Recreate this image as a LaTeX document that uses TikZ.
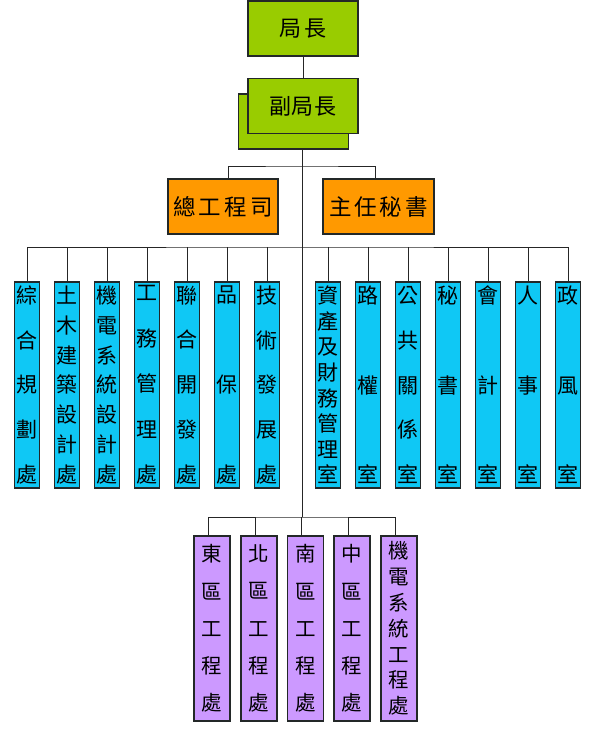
\documentclass[tikz,border=0pt]{standalone}
\usepackage{fontspec}
\setmainfont{Noto Sans CJK TC}
\definecolor{gbox}{RGB}{153,204,0}
\definecolor{obox}{RGB}{255,153,0}
\definecolor{bbox}{RGB}{15,200,245}
\definecolor{pbox}{RGB}{204,153,255}
\definecolor{edge}{RGB}{35,40,40}
\makeatletter
\newcommand\vst[2]{\parbox[c][#1][s]{1.2em}{\centering\def\vs@p{\def\vs@p{\par\vfill}}\@tfor\@ch:=#2\do{\vs@p\@ch}\par}}
\makeatother
\begin{document}
\begin{tikzpicture}[x=1pt,y=-1pt,
  box/.style={draw=edge,line width=1.1pt,inner sep=0pt,anchor=center},
  gnode/.style={box,fill=gbox,minimum width=110pt,minimum height=55pt,font=\fontsize{22}{22}\selectfont},
  onode/.style={box,fill=obox,minimum width=110pt,minimum height=55pt,font=\fontsize{22.5}{22}\selectfont},
  bnode/.style={box,fill=bbox,minimum width=25pt,minimum height=206pt,font=\fontsize{21}{21}\selectfont},
  pnode/.style={box,fill=pbox,minimum width=36pt,minimum height=185pt,font=\fontsize{20.5}{21}\selectfont},
  link/.style={draw=black!85,line width=0.9pt}]
\useasboundingbox[fill=white] (0,0) rectangle (595,732);

% top
\node[gnode] (chief) at (303,28.5) {局\hspace{3pt}長};
\node[gnode,text opacity=0] (deputyb) at (293.5,121.5) {};
\node[gnode] (deputy) at (303,106) {副\hspace{1pt}局\hspace{1pt}長};
\draw[link] (chief.south) -- (deputy.north);

% orange
\node[onode] (eng) at (223,206.5) {總\hspace{3pt}工\hspace{3pt}程\hspace{3pt}司};
\node[onode,minimum width=111pt] (sec) at (378.5,206.5) {主\hspace{3pt}任\hspace{3pt}秘\hspace{3pt}書};

\coordinate (t0) at (302,149);
\coordinate (hor) at (302,166);
\coordinate (hbl) at (302,247);
\coordinate (hpu) at (302,517);
\draw[link] (t0) -- (hpu);
\draw[link] ([xshift=5pt]eng.north) |- (hor) -| ([xshift=-3.5pt]sec.north);

% blue
\node[bnode] (b1) at (27,385) {\vst{197pt}{綜合規劃處}};
\node[bnode] (b2) at (67,385) {\vst{197pt}{土木建築設計處}};
\node[bnode] (b3) at (107,385) {\vst{197pt}{機電系統設計處}};
\node[bnode] (b4) at (147,385) {\vst{197pt}{工務管理處}};
\node[bnode] (b5) at (187,385) {\vst{197pt}{聯合開發處}};
\node[bnode] (b6) at (227,385) {\vst{197pt}{品保處}};
\node[bnode] (b7) at (267,385) {\vst{197pt}{技術發展處}};
\node[bnode] (b8) at (328,385) {\vst{197pt}{資產及財務管理室}};
\node[bnode] (b9) at (368,385) {\vst{197pt}{路權室}};
\node[bnode] (b10) at (408,385) {\vst{197pt}{公共關係室}};
\node[bnode] (b11) at (448,385) {\vst{197pt}{秘書室}};
\node[bnode] (b12) at (488,385) {\vst{197pt}{會計室}};
\node[bnode] (b13) at (528,385) {\vst{197pt}{人事室}};
\node[bnode] (b14) at (568,385) {\vst{197pt}{政風室}};
\draw[link] (b1.north) |- (hbl) -| (b14.north);
\foreach \i in {2,...,13} \draw[link] (b\i.north) -- (b\i.north |- hbl);

% purple
\node[pnode] (p1) at (212,628.5) {\vst{166pt}{東區工程處}};
\node[pnode] (p2) at (259,628.5) {\vst{166pt}{北區工程處}};
\node[pnode] (p3) at (305.5,628.5) {\vst{166pt}{南區工程處}};
\node[pnode] (p4) at (352,628.5) {\vst{166pt}{中區工程處}};
\node[pnode] (p5) at (399,628.5) {\vst{172pt}{機電系統工程處}};
\draw[link] ([xshift=-4pt]p1.north) |- (hpu) -| ([xshift=-4pt]p5.north);
\foreach \i in {2,3,4} \draw[link] ([xshift=-4pt]p\i.north) -- ([xshift=-4pt]p\i.north |- hpu);
\end{tikzpicture}
\end{document}
